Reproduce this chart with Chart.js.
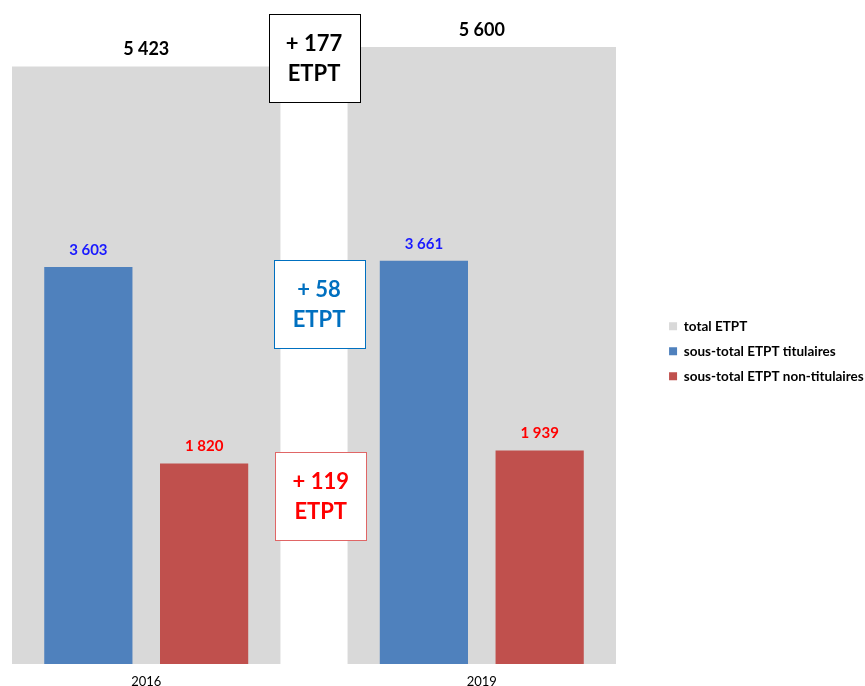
<!DOCTYPE html>
<html>
<head>
<meta charset="utf-8">
<script src="https://cdn.jsdelivr.net/npm/chart.js@4/dist/chart.umd.min.js"></script>
<style>
  html, body { margin: 0; padding: 0; background: #ffffff; }
  #wrap { width: 865px; height: 686px; }
</style>
</head>
<body>
<div id="wrap"><canvas id="chart" width="865" height="686"></canvas></div>
<script>
// ETPT par année
const years = ['2016', '2019'];
const totalEtpt = [5423, 5600];
const titulaires = [3603, 3661];
const nonTitulaires = [1820, 1939];
const seriesNames = ['total ETPT', 'sous-total ETPT titulaires', 'sous-total ETPT non-titulaires'];

const FONT = 'Lato, "Open Sans", sans-serif';
const fmt = v => String(v).replace(/\B(?=(\d{3})+(?!\d))/g, ' ');
const signed = v => (v >= 0 ? '+ ' : '- ') + fmt(Math.abs(v));

// Écarts 2016 → 2019, placés entre les deux années
const deltaBoxes = [
  { series: totalEtpt,     x: 0.5,   y: 5503, text: '#000000', border: '#000000' },
  { series: titulaires,    x: 0.515, y: 3270, text: '#0070c0', border: '#0070c0' },
  { series: nonTitulaires, x: 0.52,  y: 1529, text: '#ff0000', border: '#e06666' }
];

const valueLabels = {
  id: 'valueLabels',
  afterDatasetsDraw(chart) {
    const ctx = chart.ctx;
    chart.data.datasets.forEach((ds, di) => {
      const meta = chart.getDatasetMeta(di);
      meta.data.forEach((bar, i) => {
        ctx.save();
        ctx.font = 'bold ' + ds.valueSize + 'px ' + FONT;
        ctx.fillStyle = ds.valueColor;
        ctx.textAlign = 'center';
        ctx.textBaseline = 'middle';
        ctx.fillText(fmt(ds.data[i]), bar.x, bar.y - 17);
        ctx.restore();
      });
    });
  }
};

const deltaLabels = {
  id: 'deltaLabels',
  afterDraw(chart) {
    const ctx = chart.ctx;
    const xs = chart.scales.x, ys = chart.scales.y;
    const w = 91, h = 88;
    deltaBoxes.forEach(b => {
      const cx = xs.getPixelForValue(b.x);
      const cy = ys.getPixelForValue(b.y);
      const left = Math.round(cx - w / 2) + 0.5;
      const top = Math.round(cy - h / 2) + 0.5;
      ctx.save();
      ctx.fillStyle = '#ffffff';
      ctx.fillRect(left, top, w, h);
      ctx.strokeStyle = b.border;
      ctx.lineWidth = 1;
      ctx.strokeRect(left, top, w, h);
      ctx.fillStyle = b.text;
      ctx.font = 'bold 22px ' + FONT;
      ctx.textAlign = 'center';
      ctx.textBaseline = 'middle';
      const diff = b.series[b.series.length - 1] - b.series[0];
      ctx.fillText(signed(diff), cx, cy - 14);
      ctx.fillText('ETPT', cx, cy + 16);
      ctx.restore();
    });
  }
};

const legendRank = name => seriesNames.indexOf(name);

new Chart(document.getElementById('chart'), {
  type: 'bar',
  data: {
    labels: years.map((_, i) => i),
    datasets: [
      {
        label: seriesNames[1], data: titulaires,
        backgroundColor: '#4f81bd',
        categoryPercentage: 0.69, barPercentage: 0.762,
        valueColor: '#1a1aff', valueSize: 15
      },
      {
        label: seriesNames[2], data: nonTitulaires,
        backgroundColor: '#c0504d',
        categoryPercentage: 0.69, barPercentage: 0.762,
        valueColor: '#ff0000', valueSize: 15
      },
      {
        label: seriesNames[0], data: totalEtpt,
        backgroundColor: '#d9d9d9',
        grouped: false, categoryPercentage: 1, barPercentage: 0.8,
        valueColor: '#000000', valueSize: 18
      }
    ]
  },
  options: {
    responsive: false,
    animation: false,
    devicePixelRatio: 1,
    layout: { padding: { top: 3, bottom: -13.7, left: 0, right: -8.75 } },
    scales: {
      x: {
        type: 'linear',
        offset: false,
        min: -0.4358, max: 1.5239,
        grid: { display: false, drawTicks: false, offset: false },
        border: { display: false },
        afterBuildTicks: s => { s.ticks = years.map((_, i) => ({ value: i })); },
        ticks: {
          autoSkip: false, maxRotation: 0,
          callback: (v, i) => years[i],
          color: '#000000',
          font: { family: FONT, size: 13 },
          padding: 10
        }
      },
      y: { display: false, min: 0, max: 6000 }
    },
    plugins: {
      legend: {
        position: 'right',
        labels: {
          boxWidth: 8, boxHeight: 8, padding: 11.5,
          color: '#000000',
          font: { family: FONT, size: 13.5, weight: 'bold' },
          sort: (a, b) => legendRank(a.text) - legendRank(b.text)
        }
      },
      tooltip: { enabled: false }
    }
  },
  plugins: [valueLabels, deltaLabels]
});
</script>
</body>
</html>
